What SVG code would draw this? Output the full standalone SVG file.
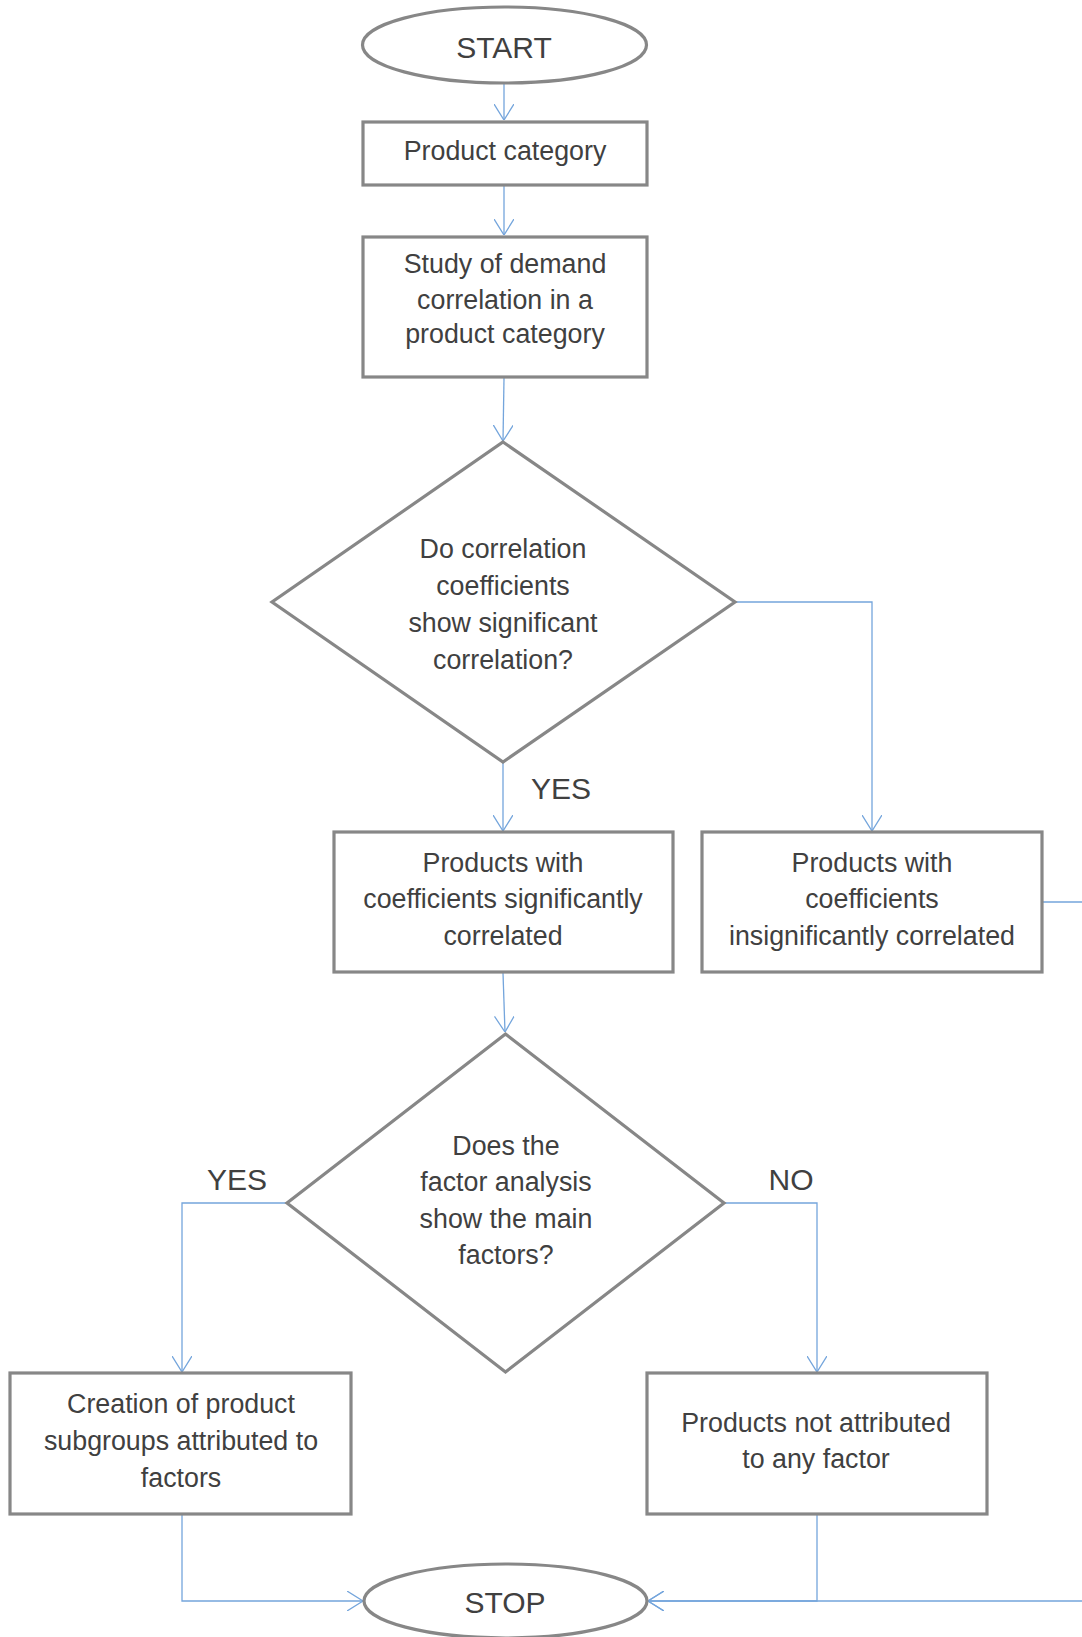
<svg xmlns="http://www.w3.org/2000/svg" width="1082" height="1637" viewBox="0 0 1082 1637">
<style>
.n{fill:#fff;stroke:#878787;stroke-width:3.2}
.t{font-family:"Liberation Sans",Arial,sans-serif;font-size:26.8px;fill:#404040;text-anchor:middle;dominant-baseline:central}
.L{font-size:30px}
.c{fill:none;stroke:#74a5dc;stroke-width:1.3}
</style>
<defs>
<marker id="a" markerUnits="userSpaceOnUse" viewBox="0 0 16 20" refX="16" refY="10" markerWidth="16" markerHeight="20" orient="auto">
<path d="M0,0 L16,10 L0,20" fill="none" stroke="#74a5dc" stroke-width="1.3"/>
</marker>
</defs>
<rect width="1082" height="1637" fill="#fff"/>
<g id="connectors">
<path class="c" d="M504,84 L504,120" marker-end="url(#a)"/>
<path class="c" d="M504,186 L504,235" marker-end="url(#a)"/>
<path class="c" d="M504,378 L503,441" marker-end="url(#a)"/>
<path class="c" d="M736,602 L872,602 L872,831" marker-end="url(#a)"/>
<path class="c" d="M503,763 L503,831" marker-end="url(#a)"/>
<path class="c" d="M503,973 L505,1032" marker-end="url(#a)"/>
<path class="c" d="M287,1203 L182,1203 L182,1372" marker-end="url(#a)"/>
<path class="c" d="M725,1203 L817,1203 L817,1372" marker-end="url(#a)"/>
<path class="c" d="M182,1515 L182,1601 L363,1601" marker-end="url(#a)"/>
<path class="c" d="M817,1515 L817,1601 L648,1601" marker-end="url(#a)"/>
<path class="c" d="M1043,902 L1095,902 L1095,1601 L648,1601" marker-end="url(#a)"/>
</g>
<g id="start">
<ellipse class="n" cx="504.5" cy="45" rx="142" ry="38"/>
<text class="t L" x="504" y="47">START</text>
</g>
<g id="product-category">
<rect class="n" x="363" y="122" width="284" height="63"/>
<text class="t" x="505" y="151">Product category</text>
</g>
<g id="study">
<rect class="n" x="363" y="237" width="284" height="140"/>
<text class="t" x="505" y="264">Study of demand</text>
<text class="t" x="505" y="300">correlation in a</text>
<text class="t" x="505" y="334">product category</text>
</g>
<g id="decision-correlation">
<polygon class="n" points="503,442 735,602 503,762 272,602"/>
<text class="t" x="503" y="549">Do correlation</text>
<text class="t" x="503" y="586">coefficients</text>
<text class="t" x="503" y="623">show significant</text>
<text class="t" x="503" y="660">correlation?</text>
</g>
<text class="t L" x="561" y="788">YES</text>
<g id="significant">
<rect class="n" x="334" y="832" width="339" height="140"/>
<text class="t" x="503" y="863">Products with</text>
<text class="t" x="503" y="899">coefficients significantly</text>
<text class="t" x="503" y="936">correlated</text>
</g>
<g id="insignificant">
<rect class="n" x="702" y="832" width="340" height="140"/>
<text class="t" x="872" y="863">Products with</text>
<text class="t" x="872" y="899">coefficients</text>
<text class="t" x="872" y="936">insignificantly correlated</text>
</g>
<g id="decision-factor">
<polygon class="n" points="505.5,1034 724,1203 505.5,1372 287,1203"/>
<text class="t" x="506" y="1146">Does the</text>
<text class="t" x="506" y="1182">factor analysis</text>
<text class="t" x="506" y="1219">show the main</text>
<text class="t" x="506" y="1255">factors?</text>
</g>
<text class="t L" x="237" y="1179">YES</text>
<text class="t L" x="791" y="1179">NO</text>
<g id="subgroups">
<rect class="n" x="10" y="1373" width="341" height="141"/>
<text class="t" x="181" y="1404">Creation of product</text>
<text class="t" x="181" y="1441">subgroups attributed to</text>
<text class="t" x="181" y="1478">factors</text>
</g>
<g id="not-attributed">
<rect class="n" x="647" y="1373" width="340" height="141"/>
<text class="t" x="816" y="1423">Products not attributed</text>
<text class="t" x="816" y="1459">to any factor</text>
</g>
<g id="stop">
<ellipse class="n" cx="505.5" cy="1601" rx="141.5" ry="37"/>
<text class="t L" x="505" y="1602">STOP</text>
</g>
</svg>
